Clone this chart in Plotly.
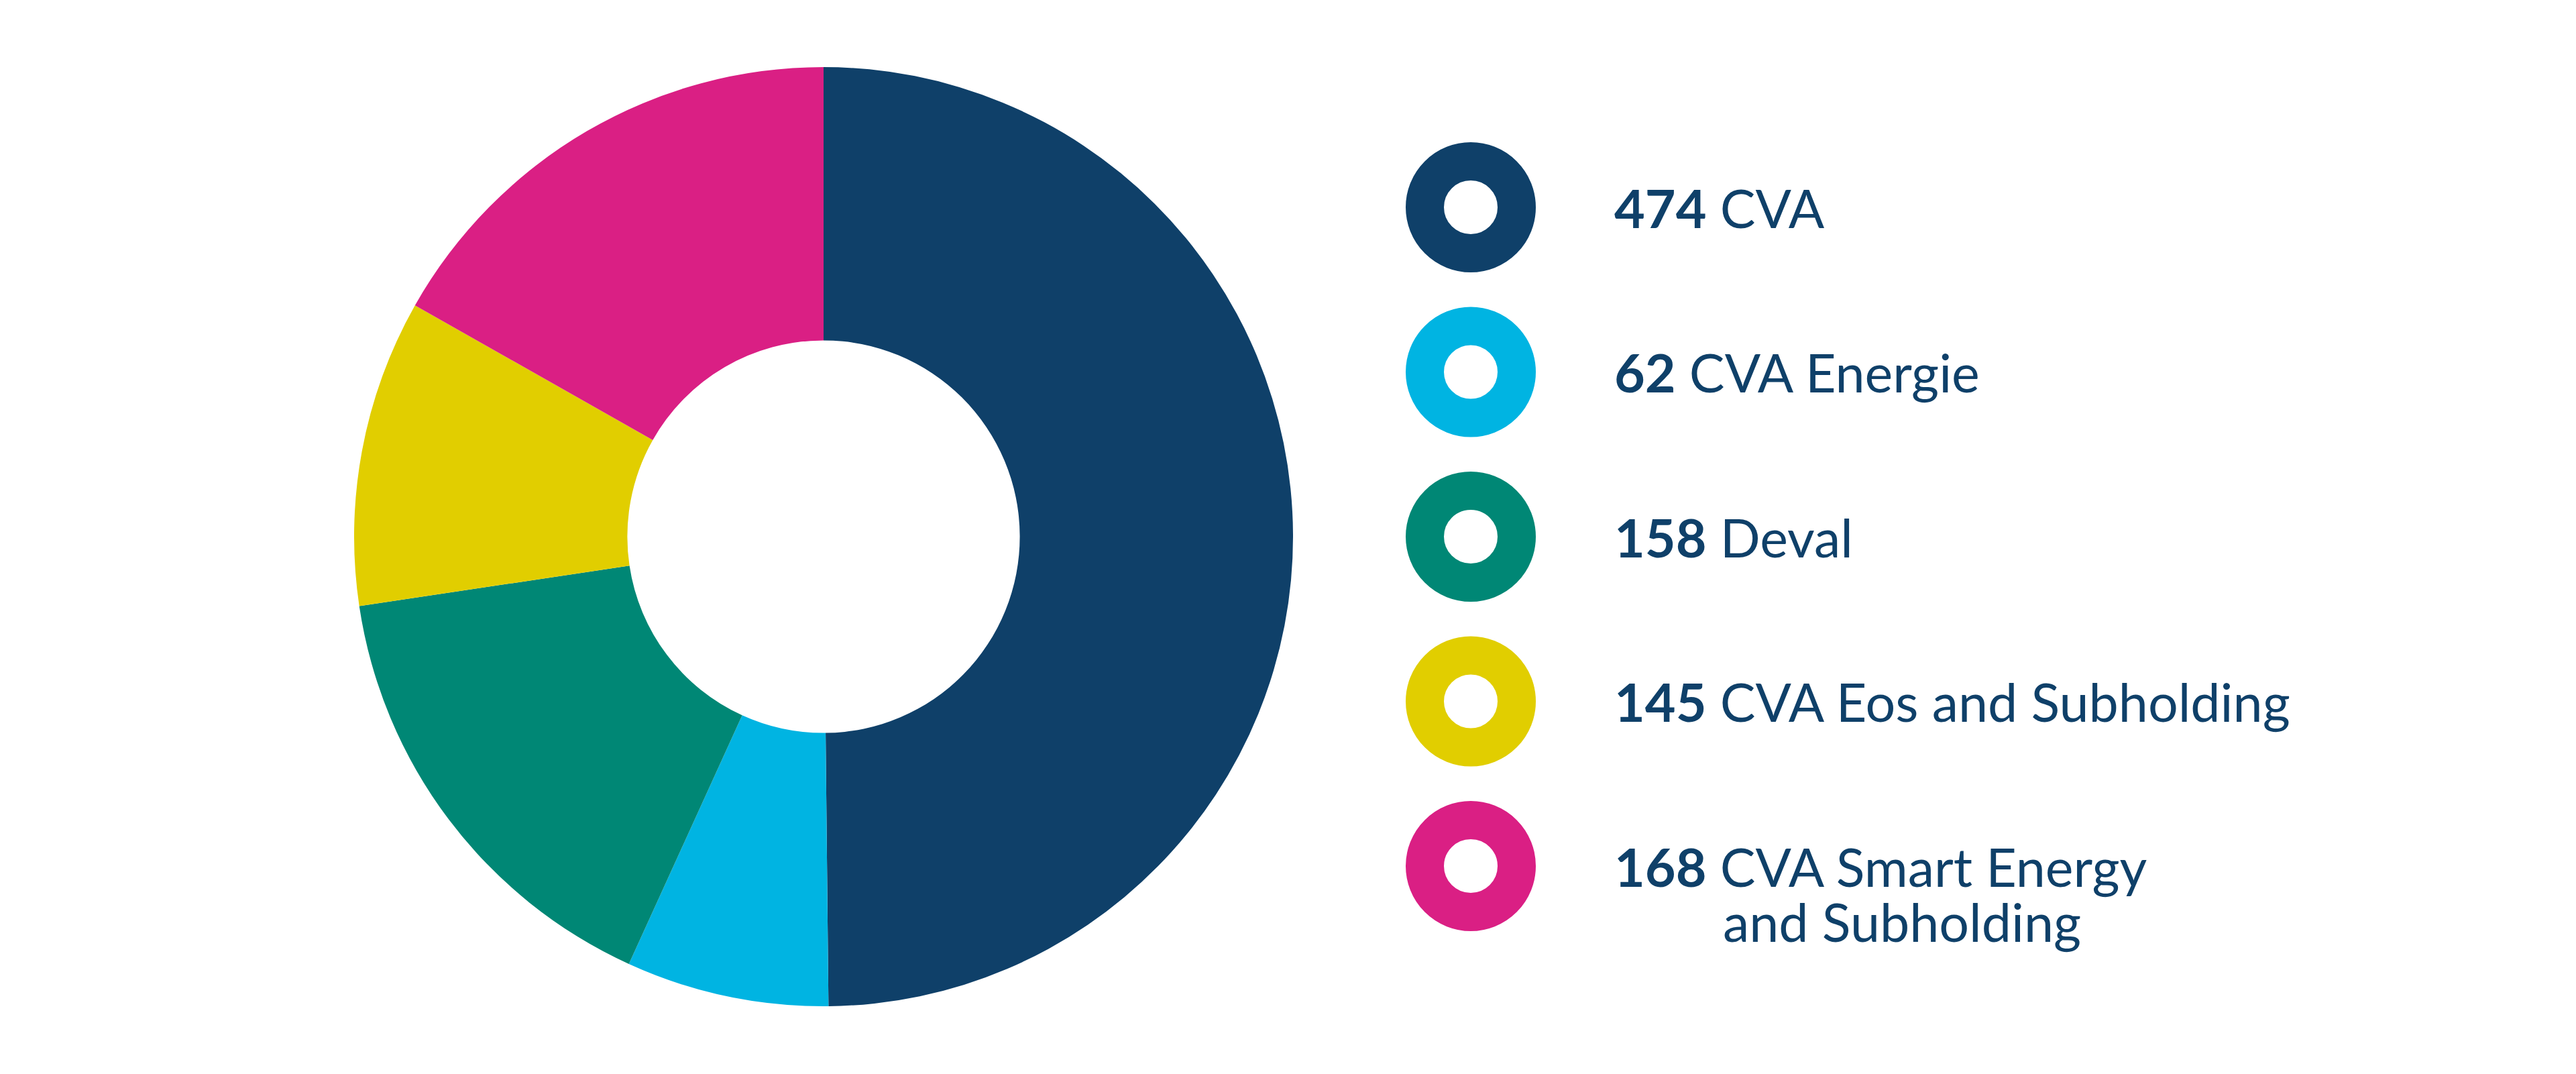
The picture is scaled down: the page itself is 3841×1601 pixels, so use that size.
import plotly.graph_objects as go

# ---- data ----
categories = ["CVA", "CVA Energie", "Deval", "CVA Eos and Subholding", "CVA Smart Energy<br>and Subholding"]
counts = [474, 62, 158, 145, 168]
# angular share of each slice as drawn in the reference (degrees)
slice_degrees = [179.4, 25.1, 57.0, 38.0, 60.5]
colors = ["#0F4069", "#00B4E2", "#008775", "#E1CE00", "#DA1F84"]
text_color = "#0F4069"

# ---- layout constants (pixels) ----
W, H = 3841, 1601
cx, cy, R = 1228, 800, 700
hole = 0.418
ring_x = 2193
ring_y0, ring_dy = 309, 245.5
text_x = 2405
cont_x = 2567
line_gap = 82
font_family = "Lato"
font_size = 79

fig = go.Figure()

fig.add_trace(go.Pie(
    values=slice_degrees,
    labels=[c.replace("<br>", " ") for c in categories],
    marker=dict(colors=colors, line=dict(width=0)),
    hole=hole,
    sort=False,
    direction="clockwise",
    rotation=0,
    textinfo="none",
    hoverinfo="label",
    showlegend=False,
    domain=dict(
        x=[(cx - R) / W, (cx + R) / W],
        y=[1 - (cy + R) / H, 1 - (cy - R) / H],
    ),
))

ring_ys = [ring_y0 + i * ring_dy for i in range(len(categories))]
fig.add_trace(go.Scatter(
    x=[ring_x] * len(categories),
    y=ring_ys,
    mode="markers",
    marker=dict(size=137, color="white", symbol="circle",
                line=dict(width=57, color=colors)),
    hoverinfo="skip",
    showlegend=False,
))

annotations = []
for i, (cat, n) in enumerate(zip(categories, counts)):
    lines = cat.split("<br>")
    annotations.append(dict(
        x=text_x, y=ring_ys[i], xref="x", yref="y",
        xanchor="left", yanchor="middle", showarrow=False, align="left",
        text=f"<b>{n}</b> {lines[0]}",
        font=dict(family=font_family, size=font_size, color=text_color),
    ))
    for k, extra in enumerate(lines[1:], start=1):
        annotations.append(dict(
            x=cont_x, y=ring_ys[i] + k * line_gap, xref="x", yref="y",
            xanchor="left", yanchor="middle", showarrow=False, align="left",
            text=extra,
            font=dict(family=font_family, size=font_size, color=text_color),
        ))

fig.update_layout(
    width=W, height=H,
    margin=dict(l=0, r=0, t=0, b=0),
    paper_bgcolor="white", plot_bgcolor="white",
    xaxis=dict(range=[0, W], visible=False, domain=[0, 1], fixedrange=True),
    yaxis=dict(range=[H, 0], visible=False, domain=[0, 1], fixedrange=True),
    annotations=annotations,
    showlegend=False,
)

fig.write_html(
    "out.html",
    config={"displayModeBar": False},
    post_script="document.body.style.margin='0';document.body.style.overflow='hidden';",
)
